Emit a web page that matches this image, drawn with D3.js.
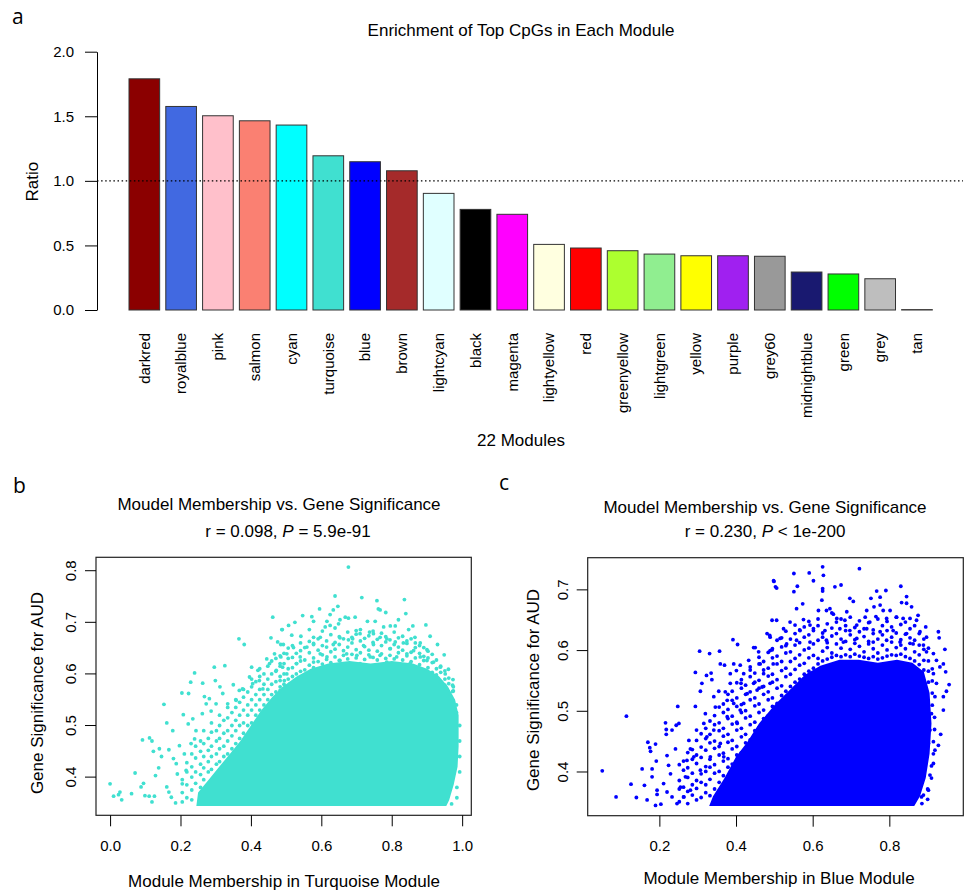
<!DOCTYPE html>
<html><head><meta charset="utf-8">
<script src="https://cdn.jsdelivr.net/npm/d3@7/dist/d3.min.js"></script>
<style>
body{margin:0;background:#fff;}
text{font-family:"Liberation Sans",Arial,sans-serif;fill:#000;}
.plab{font-family:"Open Sans","DejaVu Sans",sans-serif;font-size:21px;}
</style></head>
<body><svg id="c" width="964" height="890"></svg>
<script>
// ---------- Panel a data ----------
const moduleNames = ["darkred","royalblue","pink","salmon","cyan","turquoise","blue","brown","lightcyan","black","magenta","lightyellow","red","greenyellow","lightgreen","yellow","purple","grey60","midnightblue","green","grey","tan"];
const ratioValues = [1.79,1.576,1.504,1.465,1.432,1.194,1.148,1.078,0.903,0.779,0.741,0.508,0.480,0.459,0.433,0.420,0.420,0.416,0.294,0.279,0.242,0.003];
const moduleColors = ["#8B0000","#4169E1","#FFC0CB","#FA8072","#00FFFF","#40E0D0","#0000FF","#A52A2A","#E0FFFF","#000000","#FF00FF","#FFFFE0","#FF0000","#ADFF2F","#90EE90","#FFFF00","#A020F0","#999999","#191970","#00FF00","#BEBEBE","#D2B48C"];
const ratioTicks = [0,0.5,1,1.5,2];
const refLine = 1.0;

// ---------- Panel b data (turquoise module) ----------
const xTicksB = [0,0.2,0.4,0.6,0.8,1.0];
const yTicksB = [0.4,0.5,0.6,0.7,0.8];
const turqCore = [[0.245,0.344],[0.25,0.37],[0.28,0.395],[0.31,0.42],[0.34,0.445],[0.37,0.47],[0.40,0.50],[0.43,0.53],[0.46,0.555],[0.49,0.575],[0.53,0.595],[0.57,0.61],[0.62,0.62],[0.68,0.625],[0.74,0.62],[0.80,0.625],[0.86,0.62],[0.90,0.61],[0.935,0.595],[0.96,0.575],[0.98,0.55],[0.99,0.52],[0.99,0.46],[0.987,0.42],[0.976,0.385],[0.963,0.355],[0.955,0.344]];
const turqBand = [
[0.205,[0.352,0.37,0.395]],[0.218,[0.36,0.385,0.41,0.428]],[0.232,[0.356,0.375,0.40,0.42,0.445]],[0.243,[0.388,0.41,0.437,0.46]],[0.257,[0.38,0.405,0.425,0.45,0.47]],[0.266,[0.395,0.418,0.44,0.465,0.49]],[0.279,[0.41,0.43,0.452,0.475]],[0.288,[0.415,0.44,0.46,0.487,0.505]],[0.302,[0.425,0.445,0.47,0.49]],[0.311,[0.43,0.455,0.475,0.50,0.52]],[0.323,[0.44,0.46,0.485,0.51]],[0.334,[0.445,0.47,0.49,0.515,0.535]],[0.346,[0.455,0.48,0.50,0.525]],[0.357,[0.465,0.49,0.51,0.535,0.55]],[0.368,[0.475,0.50,0.52,0.545]],[0.379,[0.485,0.505,0.53,0.555,0.57]],[0.391,[0.50,0.52,0.54,0.565]],[0.402,[0.505,0.53,0.55,0.575,0.59]],[0.414,[0.52,0.54,0.56,0.585]],[0.425,[0.53,0.55,0.57,0.595,0.61]],[0.437,[0.54,0.56,0.58,0.60]],[0.448,[0.55,0.57,0.59,0.615]],[0.459,[0.56,0.58,0.60,0.625]],[0.471,[0.565,0.585,0.605,0.63]],[0.483,[0.575,0.595,0.615,0.635]],[0.494,[0.58,0.60,0.62,0.64]],[0.506,[0.59,0.61,0.63,0.65]],[0.518,[0.595,0.612,0.632,0.655]],[0.529,[0.60,0.62,0.64]],[0.541,[0.605,0.625,0.645,0.66]],
[0.553,[0.608,0.627,0.651]],[0.566,[0.617,0.641,0.663]],[0.578,[0.612,0.631,0.659,0.671]],[0.591,[0.624,0.646,0.668]],[0.603,[0.619,0.637,0.655,0.683]],[0.615,[0.628,0.652,0.664]],[0.627,[0.622,0.643,0.676]],[0.639,[0.633,0.648,0.661,0.689]],[0.651,[0.626,0.657,0.672]],[0.663,[0.636,0.645,0.668]],[0.675,[0.629,0.652,0.681]],[0.687,[0.638,0.66,0.671]],[0.699,[0.631,0.647,0.677]],[0.711,[0.641,0.664,0.686]],[0.723,[0.628,0.653,0.669]],[0.735,[0.637,0.646,0.674]],[0.747,[0.632,0.661,0.683]],[0.759,[0.627,0.644,0.667]],[0.771,[0.639,0.655,0.679]],[0.783,[0.63,0.662,0.672]],[0.795,[0.636,0.649,0.666]],[0.807,[0.629,0.657,0.681]],[0.819,[0.641,0.652,0.67]],[0.831,[0.627,0.646,0.673]],[0.843,[0.635,0.659,0.664]],[0.855,[0.624,0.642,0.668]],[0.867,[0.631,0.651,0.66]],[0.879,[0.618,0.64,0.655]],[0.891,[0.626,0.634,0.651]],[0.903,[0.612,0.631,0.644]],[0.915,[0.603,0.622,0.638]],[0.927,[0.598,0.61,0.627]],[0.939,[0.585,0.603,0.615]],[0.951,[0.578,0.59,0.606]],[0.962,[0.562,0.581,0.592]],[0.973,[0.549,0.566,0.578]],
[0.984,[0.525,0.54]],[0.993,[0.50,0.47,0.44,0.41]],[0.985,[0.38,0.36]],[0.97,[0.348]]
];
const turqPoints = [
[0.0,0.387],[0.010,0.363],[0.024,0.366],[0.028,0.371],[0.033,0.356],[0.061,0.368],[0.071,0.408],[0.088,0.381],[0.095,0.388],[0.099,0.364],[0.111,0.363],[0.119,0.352],[0.126,0.363],[0.092,0.472],[0.112,0.476],[0.119,0.470],[0.123,0.450],[0.140,0.455],[0.146,0.440],[0.138,0.418],[0.129,0.403],[0.161,0.505],[0.153,0.541],[0.167,0.453],[0.178,0.490],[0.180,0.436],[0.188,0.426],[0.191,0.406],[0.161,0.381],[0.167,0.371],[0.174,0.361],[0.186,0.350],[0.197,0.461],[0.204,0.563],[0.208,0.521],[0.223,0.562],[0.229,0.584],[0.240,0.602],[0.222,0.503],[0.235,0.513],[0.244,0.490],[0.240,0.474],[0.230,0.465],[0.211,0.445],[0.216,0.413],[0.205,0.387],[0.263,0.582],[0.268,0.556],[0.273,0.542],[0.282,0.552],[0.262,0.523],[0.287,0.528],[0.296,0.613],[0.299,0.587],[0.312,0.575],[0.326,0.616],[0.320,0.562],[0.301,0.542],[0.334,0.542],[0.350,0.579],[0.358,0.549],[0.367,0.568],[0.376,0.571],[0.366,0.668],[0.381,0.657],[0.402,0.613],[0.396,0.594],[0.405,0.581],[0.420,0.607],[0.424,0.587],[0.434,0.571],[0.445,0.629],[0.453,0.620],[0.462,0.710],[0.457,0.670],[0.489,0.686],[0.476,0.662],[0.485,0.657],[0.467,0.639],[0.472,0.607],[0.485,0.633],[0.490,0.613],[0.495,0.587],
[0.677,0.807],[0.639,0.751],[0.715,0.748],[0.758,0.742],[0.836,0.744],[0.595,0.726],[0.634,0.724],[0.647,0.731],[0.762,0.726],[0.767,0.724],[0.783,0.719],[0.840,0.717],[0.547,0.713],[0.573,0.711],[0.625,0.715],[0.668,0.710],[0.696,0.710],[0.819,0.705],[0.897,0.695],[0.525,0.700],[0.578,0.702],[0.616,0.702],[0.653,0.705],[0.677,0.708],[0.731,0.702],[0.753,0.702],[0.796,0.693],[0.810,0.693],[0.860,0.693],[0.488,0.686],[0.507,0.694],[0.566,0.686],[0.611,0.691],[0.625,0.694],[0.649,0.697],[0.699,0.684],[0.710,0.678],[0.737,0.681],[0.748,0.678],[0.777,0.691],[0.848,0.686],[0.866,0.671],[0.909,0.673],[0.516,0.675],[0.542,0.673],[0.597,0.671],[0.653,0.670],[0.677,0.666],[0.689,0.668],[0.767,0.671],[0.786,0.668],[0.810,0.662],[0.833,0.660],[0.881,0.660],[0.930,0.657],[0.492,0.657],[0.521,0.651],[0.559,0.652],[0.578,0.657],[0.634,0.657],[0.720,0.655],[0.748,0.657],[0.796,0.649],[0.862,0.645],[0.900,0.647],[0.949,0.637],[0.919,0.623],[0.961,0.609],[0.974,0.589],[0.975,0.575],[0.975,0.567],[0.952,0.600],[0.938,0.613],[0.502,0.639],[0.540,0.633],[0.597,0.639],[0.616,0.633],[0.672,0.639],[0.701,0.636],[0.739,0.633],[0.767,0.636],[0.814,0.633],[0.843,0.639],[0.881,0.633],[0.900,0.626],[0.483,0.620],[0.530,0.620],[0.578,0.623],[0.653,0.626],[0.710,0.620],[0.786,0.623],[0.852,0.620],[0.483,0.587],[0.483,0.568],[0.502,0.600],[0.511,0.581]
];

// ---------- Panel c data (blue module) ----------
const xTicksC = [0.2,0.4,0.6,0.8];
const yTicksC = [0.4,0.5,0.6,0.7];
const blueCore = [[0.33,0.344],[0.34,0.36],[0.37,0.39],[0.40,0.425],[0.43,0.45],[0.46,0.48],[0.50,0.51],[0.54,0.535],[0.58,0.56],[0.62,0.575],[0.67,0.585],[0.72,0.585],[0.77,0.58],[0.82,0.585],[0.86,0.58],[0.89,0.565],[0.905,0.53],[0.91,0.48],[0.905,0.43],[0.895,0.39],[0.88,0.36],[0.865,0.344]];
const blueBand = [
[0.252,[0.351,0.372,0.386,0.412]],[0.263,[0.359,0.375,0.403,0.418]],[0.274,[0.348,0.368,0.391,0.407,0.432]],[0.286,[0.362,0.379,0.398,0.421,0.437]],[0.297,[0.354,0.373,0.386,0.414,0.428,0.452]],[0.309,[0.358,0.383,0.397,0.424,0.441,0.463]],[0.321,[0.366,0.379,0.401,0.409,0.436,0.455,0.472]],[0.332,[0.361,0.388,0.408,0.421,0.448,0.462,0.484]],[0.344,[0.372,0.398,0.412,0.439,0.451,0.478,0.493]],[0.356,[0.383,0.401,0.428,0.442,0.468,0.481,0.507]],[0.367,[0.394,0.418,0.431,0.459,0.472,0.498,0.512]],[0.379,[0.408,0.422,0.449,0.462,0.488,0.503,0.528]],[0.39,[0.413,0.438,0.452,0.479,0.492,0.518,0.533]],[0.402,[0.428,0.442,0.469,0.482,0.508,0.522,0.547]],[0.414,[0.432,0.458,0.472,0.498,0.511,0.538,0.552]],[0.425,[0.448,0.462,0.489,0.501,0.528,0.543]],[0.437,[0.453,0.478,0.492,0.519,0.532,0.557,0.568]],[0.449,[0.468,0.482,0.509,0.522,0.548,0.563]],[0.46,[0.473,0.498,0.512,0.538,0.551,0.578,0.589]],[0.472,[0.488,0.502,0.528,0.541,0.568,0.582]],[0.484,[0.493,0.519,0.532,0.558,0.571,0.597]],[0.495,[0.508,0.522,0.548,0.561,0.588,0.603]],[0.507,[0.513,0.538,0.552,0.578,0.591,0.617]],[0.519,[0.526,0.542,0.567,0.582,0.606,0.621]],[0.53,[0.533,0.557,0.571,0.596,0.608,0.632]],[0.542,[0.541,0.561,0.582,0.598,0.619]],[0.554,[0.548,0.569,0.587,0.609,0.628,0.642]],[0.566,[0.553,0.576,0.593,0.613,0.634]],[0.578,[0.561,0.579,0.601,0.622,0.639]],[0.59,[0.566,0.588,0.604,0.626,0.648]],
[0.602,[0.571,0.592,0.611,0.633]],[0.614,[0.578,0.587,0.617,0.641,0.652]],[0.626,[0.583,0.599,0.622,0.629]],[0.638,[0.586,0.605,0.613,0.644]],[0.65,[0.589,0.596,0.624,0.637,0.662]],[0.662,[0.592,0.611,0.628,0.647]],[0.674,[0.59,0.604,0.619,0.652]],[0.686,[0.593,0.615,0.633,0.641]],[0.698,[0.59,0.602,0.626,0.655]],[0.71,[0.594,0.612,0.618,0.638]],[0.722,[0.591,0.607,0.631,0.649]],[0.734,[0.589,0.598,0.623,0.636]],[0.746,[0.587,0.611,0.615,0.646]],[0.758,[0.59,0.603,0.628,0.634]],[0.77,[0.586,0.596,0.619,0.652]],[0.782,[0.588,0.609,0.626,0.641]],[0.794,[0.591,0.601,0.633,0.648]],[0.806,[0.593,0.614,0.622,0.639]],[0.818,[0.592,0.605,0.629,0.655]],[0.83,[0.594,0.609,0.618,0.643]],[0.842,[0.59,0.603,0.627,0.647]],[0.854,[0.587,0.612,0.621,0.636]],[0.866,[0.583,0.598,0.617,0.641]],[0.878,[0.577,0.593,0.609,0.628]],[0.89,[0.568,0.584,0.602,0.619]],[0.902,[0.548,0.566,0.583,0.604]],
[0.912,[0.51,0.53,0.55,0.57]],[0.918,[0.47,0.49]],[0.915,[0.43,0.45]],[0.91,[0.39,0.41]],[0.9,[0.355,0.372]],[0.885,[0.348]]
];
const bluePoints = [
[0.051,0.402],[0.087,0.359],[0.114,0.492],[0.126,0.380],[0.140,0.358],[0.155,0.405],[0.161,0.378],[0.168,0.354],[0.170,0.449],[0.175,0.440],[0.177,0.434],[0.190,0.446],[0.192,0.418],[0.194,0.370],[0.194,0.363],[0.190,0.345],[0.204,0.347],[0.181,0.405],[0.181,0.392],[0.216,0.481],[0.218,0.470],[0.218,0.462],[0.233,0.469],[0.244,0.477],[0.251,0.480],[0.248,0.508],[0.220,0.427],[0.224,0.411],[0.242,0.438],[0.229,0.397],[0.211,0.381],[0.220,0.367],[0.233,0.359],[0.246,0.348],[0.255,0.375],[0.268,0.392],[0.277,0.452],[0.281,0.438],[0.294,0.508],[0.297,0.469],[0.307,0.533],[0.311,0.546],[0.294,0.564],[0.305,0.599],[0.331,0.595],[0.357,0.599],[0.323,0.559],[0.335,0.563],[0.337,0.552],[0.316,0.480],[0.320,0.496],[0.324,0.458],[0.333,0.425],[0.342,0.524],[0.346,0.507],[0.355,0.533],[0.359,0.578],[0.370,0.576],[0.372,0.532],[0.377,0.518],[0.385,0.562],[0.385,0.546],[0.392,0.618],[0.404,0.610],[0.394,0.578],[0.401,0.567],[0.411,0.576],[0.413,0.546],[0.420,0.562],[0.429,0.529],[0.433,0.584],[0.437,0.573],[0.446,0.605],[0.450,0.605],[0.459,0.598],[0.463,0.578],[0.472,0.562],[0.481,0.628],[0.488,0.625],[0.494,0.601],[0.498,0.715],[0.503,0.705],[0.494,0.650],[0.446,0.546],[0.455,0.535],[0.468,0.540],[0.342,0.469],[0.359,0.447],[0.368,0.425],[0.377,0.491],[0.394,0.513],[0.403,0.480],[0.411,0.502],[0.420,0.513],[0.307,0.403],[0.290,0.425],[0.272,0.419],[0.264,0.359],[0.281,0.370],
[0.626,0.738],[0.722,0.735],[0.551,0.727],[0.591,0.728],[0.628,0.724],[0.499,0.714],[0.506,0.703],[0.602,0.715],[0.551,0.697],[0.560,0.706],[0.626,0.702],[0.626,0.698],[0.658,0.705],[0.674,0.708],[0.767,0.698],[0.791,0.699],[0.830,0.706],[0.624,0.683],[0.697,0.686],[0.706,0.681],[0.752,0.686],[0.776,0.688],[0.845,0.689],[0.832,0.679],[0.845,0.678],[0.574,0.677],[0.558,0.669],[0.615,0.666],[0.636,0.666],[0.645,0.669],[0.689,0.664],[0.741,0.666],[0.760,0.672],[0.776,0.675],[0.784,0.666],[0.802,0.666],[0.858,0.672],[0.875,0.658],[0.506,0.650],[0.541,0.647],[0.576,0.651],[0.593,0.642],[0.654,0.660],[0.663,0.653],[0.684,0.650],[0.715,0.642],[0.737,0.655],[0.749,0.647],[0.765,0.656],[0.793,0.653],[0.819,0.655],[0.836,0.653],[0.854,0.653],[0.871,0.650],[0.895,0.639],[0.928,0.631],[0.930,0.621],[0.524,0.636],[0.567,0.633],[0.602,0.636],[0.632,0.633],[0.671,0.636],[0.697,0.633],[0.741,0.636],[0.776,0.631],[0.810,0.633],[0.845,0.628],[0.880,0.631],[0.897,0.622],[0.945,0.602],[0.941,0.578],[0.932,0.573],[0.947,0.565],[0.956,0.544],[0.949,0.533],[0.941,0.524],[0.941,0.502],[0.934,0.462],[0.928,0.444],[0.919,0.436],[0.915,0.414],[0.906,0.395],[0.902,0.370],[0.889,0.362],[0.884,0.359],[0.897,0.598],[0.915,0.595],[0.923,0.584],[0.915,0.562],[0.923,0.546],[0.919,0.524],[0.910,0.496],[0.906,0.469],[0.902,0.447],[0.489,0.622],[0.515,0.620],[0.489,0.600],[0.497,0.578],[0.489,0.546],[0.532,0.611],[0.558,0.617],[0.593,0.614],[0.636,0.617],[0.680,0.614],[0.715,0.620],[0.758,0.614],[0.793,0.617],[0.828,0.614],[0.862,0.611],[0.889,0.609]
];

const svg = d3.select("#c");

// ================= Panel a =================
const ya = d3.scaleLinear().domain([0,2]).range([310,51.7]);
const xa = d3.scaleBand().domain(moduleNames).range([129,932.3]).paddingInner(0.2/1.2).paddingOuter(0);
const gA = svg.append("g");
gA.append("text").attr("class","plab").attr("x",12).attr("y",24).text("a");
gA.append("text").attr("x",521).attr("y",36).attr("text-anchor","middle").style("font-size","17px").text("Enrichment of Top CpGs in Each Module");

const axA = d3.axisLeft(ya).tickValues(ratioTicks).tickFormat(d3.format(".1f")).tickSize(12).tickSizeOuter(0).tickPadding(11);
const gAx = gA.append("g").attr("transform","translate(97,0)").call(axA);
gAx.selectAll("text").style("font-size","15px").style("font-family","'Liberation Sans',Arial,sans-serif");
gAx.selectAll("line,path").attr("stroke","#000");

gA.selectAll("rect.bar").data(moduleNames).join("rect").attr("class","bar")
  .attr("x",d=>xa(d)).attr("width",xa.bandwidth())
  .attr("y",(d,i)=>ya(ratioValues[i])).attr("height",(d,i)=>ya(0)-ya(ratioValues[i]))
  .attr("fill",(d,i)=>moduleColors[i]).attr("stroke","#333").attr("stroke-width",1);

gA.append("line").attr("x1",97).attr("x2",963).attr("y1",ya(refLine)).attr("y2",ya(refLine))
  .attr("stroke","#000").attr("stroke-width",1.3).attr("stroke-dasharray","1.5,2.6");

gA.selectAll("text.mod").data(moduleNames).join("text").attr("class","mod")
  .attr("transform",d=>`translate(${xa(d)+xa.bandwidth()/2},333) rotate(-90)`)
  .attr("text-anchor","end").attr("dy","0.35em").style("font-size","15px").text(d=>d);

gA.append("text").attr("x",521).attr("y",446).attr("text-anchor","middle").style("font-size","17px").text("22 Modules");
gA.append("text").attr("transform","translate(32.5,181.7) rotate(-90)").attr("text-anchor","middle").attr("dy","0.35em").style("font-size","17px").text("Ratio");

// ================= Scatter helper =================
function scatter(o){
  const g = svg.append("g");
  const x = d3.scaleLinear().domain(o.xdom).range([o.left,o.right]);
  const y = d3.scaleLinear().domain(o.ydom).range([o.bottom,o.top]);
  const cid = "clip"+o.id;
  g.append("clipPath").attr("id",cid).append("rect").attr("x",o.left).attr("y",o.top).attr("width",o.right-o.left).attr("height",o.bottom-o.top);
  const pg = g.append("g").attr("clip-path",`url(#${cid})`);
  pg.append("path").datum(o.core).attr("d",d3.line().x(d=>x(d[0])).y(d=>y(d[1])).curve(d3.curveLinearClosed)).attr("fill",o.color);
  const bandPts = o.band.flatMap(([bx,ys])=>ys.map(v=>[bx,v]));
  const all = bandPts.concat(o.points);
  pg.selectAll("circle").data(all).join("circle").attr("cx",d=>x(d[0])).attr("cy",d=>y(d[1])).attr("r",1.9).attr("fill",o.color);
  g.append("rect").attr("x",o.left).attr("y",o.top).attr("width",o.right-o.left).attr("height",o.bottom-o.top).attr("fill","none").attr("stroke","#222").attr("stroke-width",1.2);
  const ax = d3.axisBottom(x).tickValues(o.xticks).tickFormat(d3.format(".1f")).tickSize(11).tickSizeOuter(0).tickPadding(14);
  const gx = g.append("g").attr("transform",`translate(0,${o.bottom})`).call(ax);
  gx.select(".domain").remove();
  gx.selectAll("line").attr("stroke","#000");
  gx.selectAll("text").style("font-size","15px").style("font-family","'Liberation Sans',Arial,sans-serif");
  g.selectAll("line.yt").data(o.yticks).join("line").attr("class","yt").attr("x1",o.left-11).attr("x2",o.left).attr("y1",d=>y(d)).attr("y2",d=>y(d)).attr("stroke","#000");
  g.selectAll("text.yl").data(o.yticks).join("text").attr("class","yl")
    .attr("transform",d=>`translate(${o.left-25},${y(d)}) rotate(-90)`).attr("text-anchor","middle").attr("dy","0.35em").style("font-size","15px").text(d=>d.toFixed(1));
  g.append("text").attr("class","plab").attr("x",o.labx).attr("y",o.laby).text(o.label);
  g.append("text").attr("x",o.t1x).attr("y",o.t1y).attr("text-anchor","middle").style("font-size","17px").text("Moudel Membership vs. Gene Significance");
  const t2 = g.append("text").attr("x",o.t2x).attr("y",537).attr("text-anchor","middle").style("font-size","17px");
  t2.append("tspan").text(o.r + ", ");
  t2.append("tspan").style("font-style","italic").text("P");
  t2.append("tspan").text(o.p);
  g.append("text").attr("transform",`translate(${o.ytx},${o.yty}) rotate(-90)`).attr("text-anchor","middle").attr("dy","0.35em").style("font-size","17px").text("Gene Significance for AUD");
  g.append("text").attr("x",o.xtx).attr("y",o.xty).attr("text-anchor","middle").style("font-size","17px").text(o.xtitle);
}

scatter({id:"b",left:96,right:471.3,top:557.3,bottom:815.3,xdom:[-0.04,1.026],ydom:[0.326,0.826],
  color:"#40E0D0",core:turqCore,band:turqBand,points:turqPoints,xticks:xTicksB,yticks:yTicksB,
  label:"b",labx:13,laby:493,t1x:279,t1y:510,t2x:288,r:"r = 0.098",p:" = 5.9e-91",
  ytx:37.3,yty:693,xtx:284,xty:887,xtitle:"Module Membership in Turquoise Module"});
scatter({id:"c",left:587.7,right:963.3,top:557.7,bottom:815.7,xdom:[0.013,0.993],ydom:[0.328,0.753],
  color:"#0000FF",core:blueCore,band:blueBand,points:bluePoints,xticks:xTicksC,yticks:yTicksC,
  label:"c",labx:499,laby:490,t1x:765,t1y:513,t2x:765,r:"r = 0.230",p:" < 1e-200",
  ytx:533,yty:690,xtx:779,xty:884,xtitle:"Module Membership in Blue Module"});
</script></body></html>
